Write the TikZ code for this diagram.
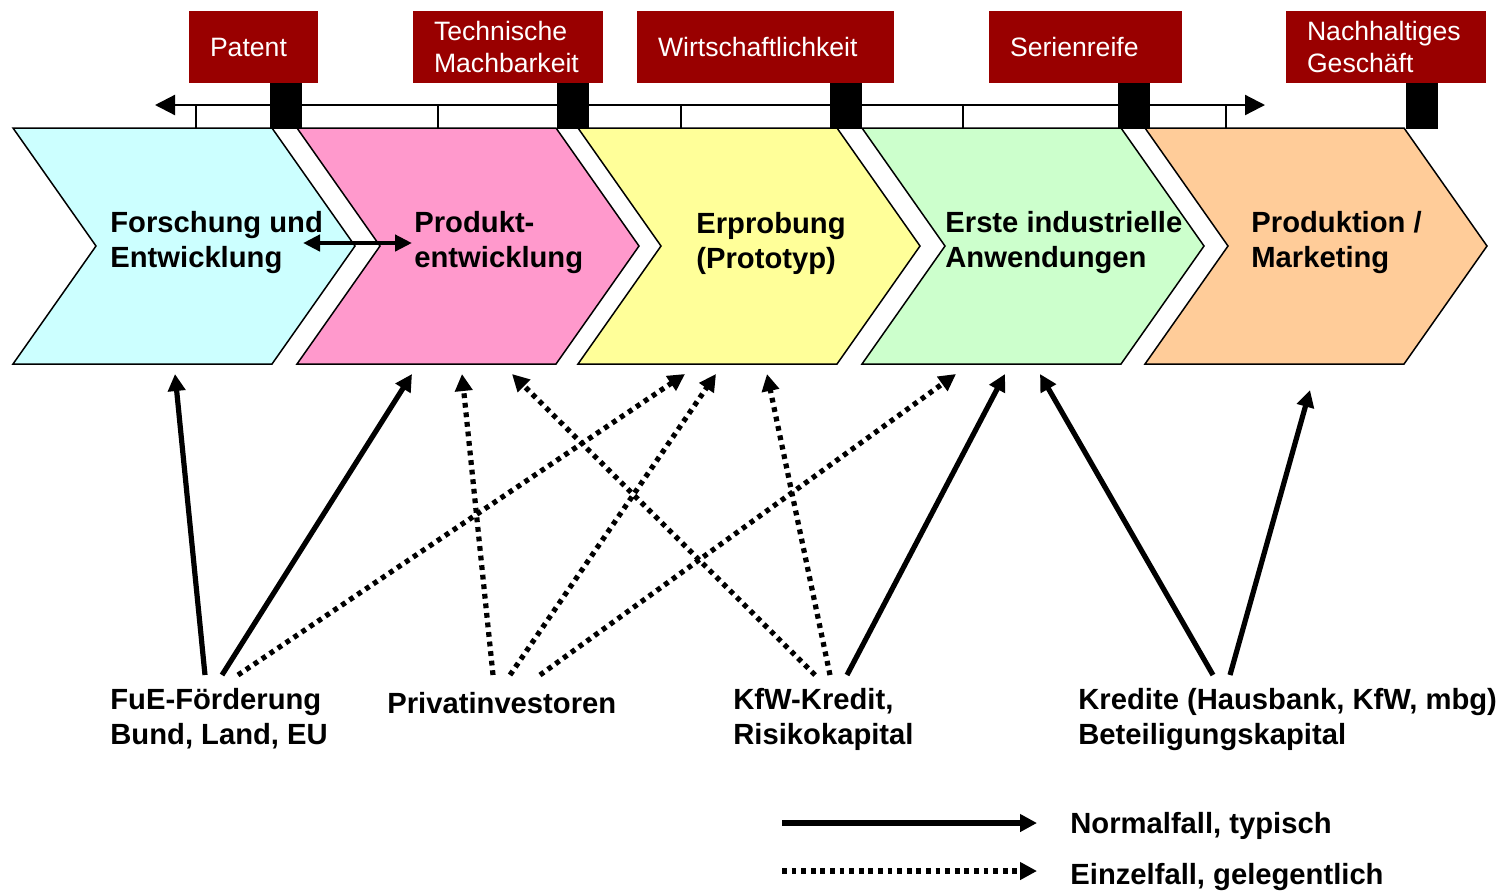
\documentclass[tikz,border=0pt]{standalone}
\usepackage{fontspec}
\setmainfont{Liberation Sans}
\usetikzlibrary{arrows.meta}
\definecolor{dunkelrot}{HTML}{990000}
\definecolor{hellcyan}{HTML}{CCFFFF}
\definecolor{rosa}{HTML}{FF99CC}
\definecolor{hellgelb}{HTML}{FFFF99}
\definecolor{hellgruen}{HTML}{CCFFCC}
\definecolor{apricot}{HTML}{FFCC99}
\tikzset{
  meilenstein/.style={fill=dunkelrot, text=white, text width=#1, minimum height=36pt,
    inner xsep=10.5pt, inner ysep=0pt, align=left, font=\fontsize{13.3}{16}\selectfont},
  phase/.style={anchor=west, align=left, inner sep=0pt, font=\bfseries\fontsize{14.6}{17.5}\selectfont},
  quelle/.style={anchor=west, align=left, inner sep=0pt, font=\bfseries\fontsize{14.6}{17.5}\selectfont},
  spitze/.style={-{Triangle[length=8.5pt,width=8.5pt]}},
  normalpfeil/.style={spitze, line width=2.6pt},
  einzelpfeil/.style={spitze, line width=2.6pt, dash pattern=on 2.4pt off 2.4pt},
}
\begin{document}
\begin{tikzpicture}[x=0.5pt, y=-0.5pt]
  \useasboundingbox (0,0) rectangle (1503,890);

  % Phasen als Pfeile
  \foreach \links/\farbe in {13/hellcyan, 297/rosa, 578/hellgelb, 862/hellgruen, 1145/apricot}
    \draw[line width=0.75pt, fill=\farbe] (\links,128) -- ++(259,0) -- ++(83,118) -- ++(-83,118)
      -- ++(-259,0) -- ++(83,-118) -- cycle;

  \node[phase] (fe) at (110,243) {Forschung und\\Entwicklung};
  \node[phase] (pe) at (414,243) {Produkt-\\entwicklung};
  \node[phase] (ep) at (696,243) {Erprobung\\(Prototyp)};
  \node[phase] (ia) at (945,243) {Erste industrielle\\Anwendungen};
  \node[phase] (pm) at (1251,243) {Produktion /\\Marketing};

  \coordinate (fe-pe-l) at (303,243);
  \coordinate (fe-pe-r) at (412,243);
  \draw[{Triangle[length=8.5pt,width=8pt]}-{Triangle[length=8.5pt,width=8pt]}, line width=2.4pt] (fe-pe-l) -- (fe-pe-r);

  % Zeitachse
  \coordinate (achse-l) at (155,105);
  \coordinate (achse-r) at (1265,105);
  \draw[line width=1.1pt, {Triangle[length=10pt,width=10pt]}-{Triangle[length=10pt,width=10pt]}] (achse-l) -- (achse-r);
  \foreach \x in {196, 438, 681, 963, 1226}
    \draw[line width=0.75pt] (\x,105) -- (\x,128);

  % Meilensteine
  \node[meilenstein=43.5pt] (patent) at (253.5,47) {Patent};
  \node[meilenstein=74pt] (machbar) at (508,47) {Technische\\Machbarkeit};
  \node[meilenstein=107.5pt] (wirtschaft) at (765.5,47) {Wirtschaftlichkeit};
  \node[meilenstein=75.5pt] (serie) at (1085.5,47) {Serienreife};
  \node[meilenstein=79pt] (geschaeft) at (1386,47) {Nachhaltiges\\Geschäft};
  \foreach \x in {270, 557, 830, 1118, 1406}
    \fill (\x,83) rectangle ++(32,46);

  % Finanzierungsquellen
  \node[quelle] (fue) at (110,719) {FuE-Förderung\\Bund, Land, EU};
  \node[quelle] (privat) at (387,703) {Privatinvestoren};
  \node[quelle] (kfw) at (733,719) {KfW-Kredit,\\Risikokapital};
  \node[quelle] (kredit) at (1078,719) {Kredite (Hausbank, KfW, mbg)\\Beteiligungskapital};

  \coordinate (fue-a) at (205,675);
  \coordinate (fue-b) at (222,675);
  \coordinate (fue-c) at (238,675);
  \coordinate (privat-a) at (493,675);
  \coordinate (privat-b) at (510,675);
  \coordinate (privat-c) at (540,675);
  \coordinate (kfw-a) at (815,675);
  \coordinate (kfw-b) at (830,675);
  \coordinate (kfw-c) at (847,675);
  \coordinate (kredit-a) at (1213,675);
  \coordinate (kredit-b) at (1230,675);

  \coordinate (fe-in) at (175,374);
  \coordinate (pe-in-a) at (412,374);
  \coordinate (pe-in-b) at (462,374);
  \coordinate (pe-in-c) at (512,374);
  \coordinate (ep-in-a) at (685,374);
  \coordinate (ep-in-b) at (716,374);
  \coordinate (ep-in-c) at (767,374);
  \coordinate (ia-in-a) at (956,374);
  \coordinate (ia-in-b) at (1005,374);
  \coordinate (ia-in-c) at (1040,374);
  \coordinate (pm-in) at (1310,390);

  \draw[normalpfeil] (fue-a) -- (fe-in);
  \draw[normalpfeil] (fue-b) -- (pe-in-a);
  \draw[einzelpfeil] (fue-c) -- (ep-in-a);
  \draw[einzelpfeil] (privat-a) -- (pe-in-b);
  \draw[einzelpfeil] (privat-b) -- (ep-in-b);
  \draw[einzelpfeil] (privat-c) -- (ia-in-a);
  \draw[einzelpfeil] (kfw-a) -- (pe-in-c);
  \draw[einzelpfeil] (kfw-b) -- (ep-in-c);
  \draw[normalpfeil] (kfw-c) -- (ia-in-b);
  \draw[normalpfeil] (kredit-a) -- (ia-in-c);
  \draw[normalpfeil] (kredit-b) -- (pm-in);

  % Legende
  \coordinate (leg-a) at (782,823);
  \coordinate (leg-b) at (1037,823);
  \coordinate (leg-c) at (782,871);
  \coordinate (leg-d) at (1037,871);
  \draw[normalpfeil] (leg-a) -- (leg-b);
  \draw[einzelpfeil] (leg-c) -- (leg-d);
  \node[quelle] (normal) at (1070,826) {Normalfall, typisch};
  \node[quelle] (einzel) at (1070,877) {Einzelfall, gelegentlich};
\end{tikzpicture}
\end{document}
